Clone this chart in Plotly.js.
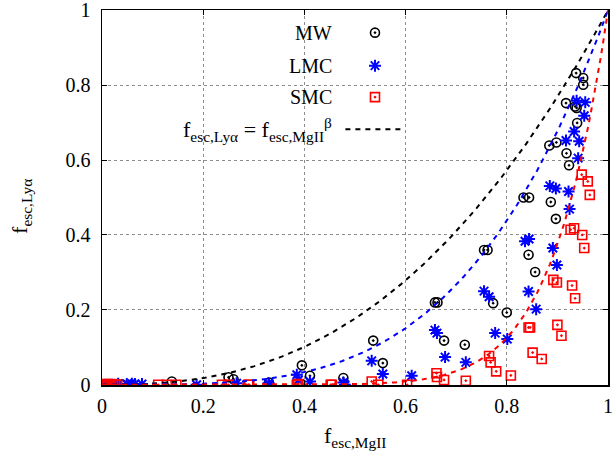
<!DOCTYPE html>
<html>
<head>
<meta charset="utf-8">
<script src="https://cdn.plot.ly/plotly-3.0.1.min.js"></script>
<style>html,body{margin:0;padding:0;background:#fff;}#chart{width:614px;height:461px;}</style>
</head>
<body>
<div id="chart"></div>
<script>
// ---- data ----
const mwX = [0.005,0.02,0.04,0.06,0.138,0.25,0.26,0.33,0.395,0.411,0.477,0.536,0.555,0.658,0.663,0.676,0.717,0.755,0.762,0.773,0.80,0.833,0.844,0.843,0.856,0.884,0.898,0.887,0.897,0.918,0.923,0.917,0.935,0.938,0.939,0.937,0.951,0.951];
const mwY = [0.0,0.0,0.001,0.001,0.009,0.02,0.015,0.006,0.052,0.024,0.018,0.118,0.058,0.22,0.22,0.118,0.107,0.36,0.36,0.218,0.193,0.50,0.50,0.347,0.301,0.639,0.647,0.488,0.443,0.618,0.586,0.752,0.743,0.739,0.699,0.832,0.819,0.801];

const lmcX = [0.005,0.02,0.032,0.049,0.059,0.065,0.079,0.187,0.266,0.329,0.33,0.385,0.388,0.411,0.477,0.48,0.533,0.555,0.612,0.658,0.662,0.678,0.719,0.755,0.765,0.777,0.801,0.836,0.844,0.843,0.858,0.885,0.897,0.891,0.899,0.922,0.924,0.917,0.943,0.941,0.933,0.953,0.938,0.955];
const lmcY = [0.0,0.0,0.003,0.002,0.003,0.002,0.002,0.0,0.004,0.004,0.0,0.027,0.013,0.009,0.006,0.0,0.064,0.029,0.024,0.146,0.138,0.074,0.06,0.25,0.235,0.138,0.122,0.383,0.389,0.249,0.202,0.531,0.524,0.365,0.32,0.516,0.469,0.652,0.65,0.605,0.676,0.718,0.758,0.754];

const smcX = [0.0,0.002,0.005,0.008,0.01,0.012,0.015,0.018,0.022,0.026,0.03,0.111,0.128,0.147,0.237,0.25,0.289,0.291,0.385,0.388,0.452,0.454,0.533,0.546,0.603,0.661,0.662,0.676,0.719,0.765,0.768,0.779,0.808,0.851,0.869,0.843,0.846,0.90,0.908,0.892,0.899,0.929,0.935,0.926,0.933,0.949,0.953,0.948,0.96,0.964];
const smcY = [0.0,0.001,0.0,0.002,0.0,0.001,0.0,0.002,0.0,0.001,0.0,0.0,0.0,0.0,0.0,0.0,0.0,0.0,0.0,0.002,0.0,0.0,0.009,0.0,0.0,0.031,0.021,0.013,0.011,0.077,0.06,0.036,0.025,0.086,0.069,0.153,0.153,0.16,0.131,0.28,0.273,0.265,0.231,0.414,0.418,0.40,0.365,0.561,0.543,0.507];

// fitted exponents beta of f_Lya = f_MgII^beta
const fitNames = ['MW','LMC','SMC'];
const fitBeta = [2.5, 3.7, 9.3];
const fitColors = ['#000000','#0000ff','#ff0000'];

const tickVals = [0,0.2,0.4,0.6,0.8,1];
const tickText = ['0','0.2','0.4','0.6','0.8','1'];

const legendLabels = ['MW','LMC','SMC','f<sub>esc,Lyα</sub> = f<sub>esc,MgII</sub><sup>β</sup>'];

// ---- build ----
const FONT = 'Liberation Serif, Times New Roman, serif';
const gridX = [];
for (let i = 0; i <= 200; i++) gridX.push(i / 200);

const traces = [];
traces.push({x: mwX, y: mwY, type: 'scatter', mode: 'markers', showlegend: false,
  marker: {symbol: 'circle-open-dot', size: 9, color: '#000', line: {width: 1.6, color: '#000'}}});
traces.push({x: lmcX, y: lmcY, type: 'scatter', mode: 'markers', showlegend: false,
  marker: {symbol: 'asterisk-open', size: 10, color: '#0000ff', line: {width: 2, color: '#0000ff'}}});
traces.push({x: smcX, y: smcY, type: 'scatter', mode: 'markers', showlegend: false,
  marker: {symbol: 'square-open-dot', size: 9, color: '#ff0000', line: {width: 1.6, color: '#ff0000'}}});
fitBeta.forEach((b, i) => {
  traces.push({x: gridX, y: gridX.map(v => Math.pow(v, b)), type: 'scatter', mode: 'lines', showlegend: false,
    name: fitNames[i], line: {color: fitColors[i], width: 2, dash: '5px,5px'}});
});

// legend samples on an invisible overlay axis
const legSymX = 0.5395;
const legRowsY = [0.94, 0.852, 0.768, 0.682];
traces.push({x: [legSymX], y: [legRowsY[0]], xaxis: 'x2', yaxis: 'y2', mode: 'markers', showlegend: false,
  marker: {symbol: 'circle-open-dot', size: 9, color: '#000', line: {width: 1.6, color: '#000'}}});
traces.push({x: [legSymX], y: [legRowsY[1]], xaxis: 'x2', yaxis: 'y2', mode: 'markers', showlegend: false,
  marker: {symbol: 'asterisk-open', size: 10, color: '#0000ff', line: {width: 2, color: '#0000ff'}}});
traces.push({x: [legSymX], y: [legRowsY[2]], xaxis: 'x2', yaxis: 'y2', mode: 'markers', showlegend: false,
  marker: {symbol: 'square-open-dot', size: 9, color: '#ff0000', line: {width: 1.6, color: '#ff0000'}}});
traces.push({x: [0.481, 0.594], y: [legRowsY[3], legRowsY[3]], xaxis: 'x2', yaxis: 'y2', mode: 'lines', showlegend: false,
  line: {color: '#000', width: 2, dash: '5px,5px'}});

const annotations = legendLabels.map((t, i) => ({
  text: t, xref: 'paper', yref: 'paper', x: 0.458, y: legRowsY[i], xanchor: 'right', yanchor: 'middle',
  showarrow: false, font: {family: FONT, size: i === 3 ? 22 : 20, color: '#000'}
}));
annotations.push({text: 'f<sub>esc,MgII</sub>', xref: 'paper', yref: 'paper', x: 0.5, y: -0.138,
  xanchor: 'center', yanchor: 'middle', showarrow: false, font: {family: FONT, size: 22, color: '#000'}});
annotations.push({text: 'f<sub>esc,Lyα</sub>', xref: 'paper', yref: 'paper', x: -0.16, y: 0.475,
  xanchor: 'center', yanchor: 'middle', textangle: -90, showarrow: false, font: {family: FONT, size: 22, color: '#000'}});

const axisCommon = {
  tickvals: tickVals, ticktext: tickText, ticks: 'inside', ticklen: 5, tickwidth: 1,
  tickcolor: '#000', showline: true, linecolor: '#000', linewidth: 1.5, mirror: 'ticks',
  showgrid: true, gridcolor: '#8c8c8c', griddash: 'dot', gridwidth: 1, zeroline: false,
  tickfont: {family: FONT, size: 20, color: '#000'}, fixedrange: true, ticklabeloverflow: 'allow'
};

const layout = {
  width: 614, height: 461,
  margin: {l: 102, r: 6, t: 10, b: 76},
  paper_bgcolor: '#fff', plot_bgcolor: '#fff',
  xaxis: Object.assign({}, axisCommon, {range: [0, 1], ticklabelstandoff: 2}),
  yaxis: Object.assign({}, axisCommon, {range: [-0.0005, 1.0005], ticklabelstandoff: 6}),
  xaxis2: {overlaying: 'x', range: [0, 1], visible: false, fixedrange: true},
  yaxis2: {overlaying: 'y', range: [-0.0005, 1.0005], visible: false, fixedrange: true},
  showlegend: false,
  shapes: [{type: 'rect', xref: 'paper', yref: 'paper', x0: 0.12, x1: 0.62, y0: 0.63, y1: 1,
    fillcolor: '#fff', line: {width: 0}, layer: 'between'}],
  annotations: annotations
};

Plotly.newPlot('chart', traces, layout, {staticPlot: true, displayModeBar: false});
</script>
</body>
</html>
